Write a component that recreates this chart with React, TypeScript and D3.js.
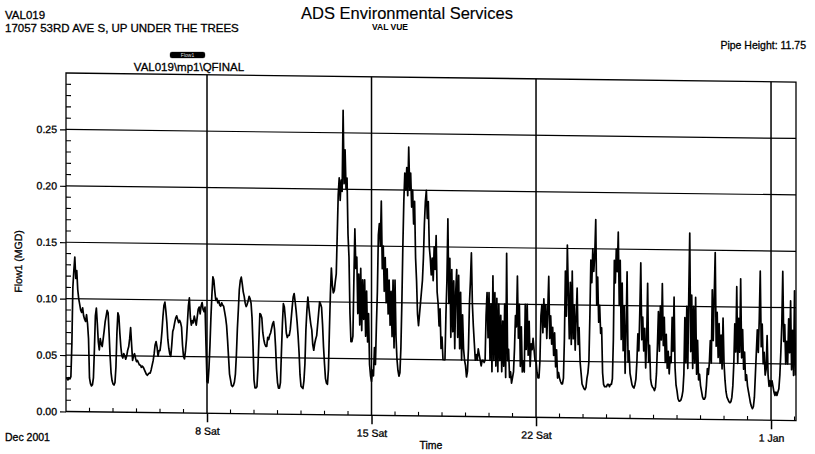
import * as d3 from 'd3';
import React, { useEffect, useRef } from 'react';

// time range of the plot (hourly readings start at startTime)
const startTime = new Date(2001, 11, 2, 0, 0);
const endTime = new Date(2002, 0, 2, 1, 30);

// Flow1 (MGD), hourly, one row per day
const flowWeek1 = [
    0.030, 0.029, 0.028, 0.030, 0.029, 0.031, 0.060, 0.110, 0.125, 0.137, 0.118, 0.125, 0.108, 0.100, 0.095, 0.090, 0.088, 0.092, 0.085, 0.082, 0.080, 0.086, 0.078, 0.065,
    0.030, 0.025, 0.023, 0.024, 0.030, 0.055, 0.085, 0.092, 0.078, 0.062, 0.055, 0.065, 0.060, 0.058, 0.065, 0.072, 0.080, 0.085, 0.090, 0.088, 0.070, 0.050, 0.035, 0.028,
    0.025, 0.024, 0.026, 0.040, 0.070, 0.088, 0.085, 0.070, 0.058, 0.050, 0.048, 0.052, 0.050, 0.047, 0.050, 0.055, 0.058, 0.065, 0.075, 0.060, 0.046, 0.050, 0.052, 0.048,
    0.045, 0.046, 0.044, 0.042, 0.042, 0.040, 0.041, 0.040, 0.038, 0.036, 0.034, 0.033, 0.034, 0.035, 0.035, 0.038, 0.042, 0.046, 0.052, 0.060, 0.063, 0.058, 0.050, 0.055,
    0.055, 0.062, 0.072, 0.085, 0.095, 0.098, 0.090, 0.080, 0.065, 0.057, 0.052, 0.050, 0.060, 0.072, 0.075, 0.080, 0.084, 0.086, 0.083, 0.080, 0.082, 0.080, 0.076, 0.060,
    0.050, 0.048, 0.055, 0.065, 0.080, 0.095, 0.102, 0.085, 0.078, 0.082, 0.080, 0.086, 0.082, 0.078, 0.085, 0.092, 0.094, 0.088, 0.095, 0.098, 0.092, 0.090, 0.094, 0.060,
    0.028, 0.027, 0.040, 0.060, 0.085, 0.105, 0.121, 0.118, 0.108, 0.100, 0.102, 0.098, 0.100, 0.096, 0.095, 0.098, 0.096, 0.095, 0.090, 0.085, 0.078, 0.065, 0.050, 0.035,
];
const flowWeek2 = [
    0.030, 0.025, 0.024, 0.025, 0.028, 0.035, 0.052, 0.075, 0.092, 0.110, 0.118, 0.121, 0.115, 0.108, 0.104, 0.098, 0.095, 0.097, 0.100, 0.104, 0.102, 0.098, 0.085, 0.060,
    0.030, 0.023, 0.023, 0.024, 0.040, 0.065, 0.089, 0.088, 0.085, 0.072, 0.066, 0.062, 0.060, 0.060, 0.068, 0.066, 0.070, 0.072, 0.076, 0.080, 0.082, 0.075, 0.060, 0.040,
    0.028, 0.023, 0.023, 0.028, 0.055, 0.080, 0.098, 0.095, 0.085, 0.072, 0.068, 0.070, 0.070, 0.075, 0.085, 0.095, 0.104, 0.107, 0.100, 0.092, 0.082, 0.070, 0.055, 0.035,
    0.025, 0.024, 0.023, 0.030, 0.045, 0.075, 0.092, 0.104, 0.095, 0.087, 0.080, 0.075, 0.062, 0.057, 0.063, 0.067, 0.070, 0.080, 0.090, 0.100, 0.098, 0.095, 0.080, 0.060,
    0.045, 0.032, 0.028, 0.027, 0.040, 0.075, 0.107, 0.130, 0.115, 0.108, 0.110, 0.118, 0.125, 0.160, 0.195, 0.210, 0.190, 0.208, 0.198, 0.270, 0.205, 0.235, 0.200, 0.210,
    0.160, 0.140, 0.090, 0.065, 0.065, 0.070, 0.120, 0.165, 0.130, 0.140, 0.090, 0.125, 0.080, 0.130, 0.075, 0.120, 0.085, 0.120, 0.070, 0.110, 0.065, 0.090, 0.045, 0.035,
    0.030, 0.040, 0.035, 0.060, 0.045, 0.080, 0.110, 0.160, 0.170, 0.150, 0.190, 0.130, 0.150, 0.110, 0.140, 0.100, 0.130, 0.090, 0.120, 0.080, 0.110, 0.070, 0.120, 0.060,
];
const flowWeek3 = [
    0.120, 0.070, 0.050, 0.040, 0.035, 0.038, 0.060, 0.100, 0.150, 0.190, 0.215, 0.200, 0.220, 0.195, 0.238, 0.200, 0.215, 0.185, 0.200, 0.170, 0.190, 0.140, 0.120, 0.090,
    0.080, 0.090, 0.100, 0.110, 0.120, 0.140, 0.170, 0.190, 0.200, 0.175, 0.190, 0.150, 0.140, 0.125, 0.140, 0.120, 0.150, 0.130, 0.160, 0.110, 0.100, 0.080, 0.095, 0.060,
    0.070, 0.050, 0.050, 0.050, 0.090, 0.120, 0.175, 0.100, 0.140, 0.070, 0.130, 0.075, 0.120, 0.060, 0.110, 0.130, 0.070, 0.125, 0.060, 0.110, 0.050, 0.090, 0.060, 0.050,
    0.045, 0.035, 0.040, 0.060, 0.100, 0.120, 0.145, 0.100, 0.080, 0.065, 0.050, 0.055, 0.050, 0.060, 0.055, 0.050, 0.045, 0.050, 0.050, 0.048, 0.050, 0.090, 0.110, 0.070,
    0.110, 0.050, 0.100, 0.040, 0.125, 0.050, 0.110, 0.045, 0.105, 0.040, 0.100, 0.050, 0.090, 0.040, 0.085, 0.045, 0.100, 0.035, 0.145, 0.050, 0.060, 0.035, 0.040, 0.030,
    0.035, 0.040, 0.060, 0.090, 0.080, 0.125, 0.070, 0.100, 0.045, 0.080, 0.040, 0.050, 0.040, 0.100, 0.060, 0.100, 0.055, 0.085, 0.045, 0.065, 0.060, 0.070, 0.060, 0.050,
    0.050, 0.040, 0.035, 0.035, 0.050, 0.090, 0.100, 0.075, 0.105, 0.080, 0.100, 0.070, 0.095, 0.125, 0.070, 0.090, 0.065, 0.080, 0.055, 0.075, 0.045, 0.060, 0.035, 0.040,
];
const flowWeek4 = [
    0.035, 0.032, 0.030, 0.030, 0.035, 0.070, 0.130, 0.090, 0.153, 0.110, 0.070, 0.120, 0.065, 0.130, 0.070, 0.100, 0.060, 0.090, 0.115, 0.065, 0.080, 0.050, 0.040, 0.030,
    0.028, 0.026, 0.025, 0.027, 0.035, 0.040, 0.050, 0.090, 0.140, 0.120, 0.150, 0.130, 0.145, 0.176, 0.100, 0.125, 0.085, 0.100, 0.075, 0.080, 0.040, 0.030, 0.028, 0.028,
    0.028, 0.030, 0.030, 0.028, 0.030, 0.030, 0.035, 0.070, 0.140, 0.120, 0.150, 0.130, 0.165, 0.100, 0.140, 0.070, 0.120, 0.060, 0.100, 0.040, 0.080, 0.130, 0.050, 0.060,
    0.040, 0.035, 0.030, 0.028, 0.027, 0.030, 0.035, 0.050, 0.075, 0.060, 0.095, 0.138, 0.070, 0.090, 0.060, 0.080, 0.045, 0.070, 0.120, 0.050, 0.065, 0.035, 0.030, 0.028,
    0.027, 0.025, 0.028, 0.040, 0.065, 0.095, 0.060, 0.100, 0.070, 0.120, 0.065, 0.090, 0.050, 0.075, 0.045, 0.060, 0.040, 0.055, 0.050, 0.090, 0.060, 0.108, 0.045, 0.030,
    0.025, 0.018, 0.016, 0.016, 0.017, 0.020, 0.025, 0.040, 0.090, 0.050, 0.100, 0.045, 0.110, 0.165, 0.060, 0.110, 0.045, 0.100, 0.050, 0.108, 0.040, 0.070, 0.035, 0.040,
    0.030, 0.025, 0.020, 0.018, 0.018, 0.020, 0.030, 0.045, 0.040, 0.050, 0.070, 0.050, 0.115, 0.070, 0.110, 0.148, 0.065, 0.095, 0.055, 0.085, 0.050, 0.075, 0.045, 0.090,
];
const flowWeek5 = [
    0.050, 0.035, 0.025, 0.020, 0.018, 0.016, 0.015, 0.016, 0.020, 0.030, 0.050, 0.085, 0.060, 0.118, 0.050, 0.090, 0.060, 0.125, 0.055, 0.080, 0.045, 0.060, 0.035, 0.040,
    0.030, 0.025, 0.020, 0.015, 0.012, 0.010, 0.012, 0.020, 0.040, 0.060, 0.080, 0.060, 0.090, 0.132, 0.065, 0.085, 0.050, 0.060, 0.040, 0.045, 0.075, 0.040, 0.030, 0.035,
    0.030, 0.035, 0.030, 0.025, 0.022, 0.025, 0.022, 0.025, 0.028, 0.040, 0.060, 0.085, 0.132, 0.070, 0.085, 0.050, 0.070, 0.050, 0.090, 0.060, 0.106, 0.045, 0.080, 0.040,
    0.115, 0.040,
];

const yTickValues = [0, 0.05, 0.1, 0.15, 0.2, 0.25];
const majorTickDates = [new Date(2001, 11, 8), new Date(2001, 11, 15), new Date(2001, 11, 22), new Date(2002, 0, 1)];
const majorTickLabels = ['8 Sat', '15 Sat', '22 Sat', '1 Jan'];

const FONT = '"Liberation Sans", Arial, sans-serif';
const SKEW_DEG = 0.71; // the scanned page is slightly sheared

export default function App() {
    const ref = useRef<any>(null);

    useEffect(() => {
        const width = 815;
        const height = 454;
        const margin = { top: 73, left: 66, right: 19, bottom: 42.5 };
        const boundedWidth = width - margin.left - margin.right;
        const boundedHeight = height - margin.top - margin.bottom;

        const flow = [...flowWeek1, ...flowWeek2, ...flowWeek3, ...flowWeek4, ...flowWeek5];
        const dataset = flow.map((v, i) => ({ date: d3.timeHour.offset(startTime, i), value: v }));

        const svg = d3.select<any, any>(ref.current)
            .attr('width', width)
            .attr('height', height);
        svg.selectAll('*').remove();

        svg.append('rect').attr('width', width).attr('height', height).attr('fill', 'white');

        // header texts (slight stroke for the heavy scanned print)
        const header = svg.append('g')
            .attr('font-family', FONT)
            .attr('fill', 'black')
            .attr('stroke', 'black')
            .attr('stroke-width', 0.3);
        header.append('text').attr('x', 5).attr('y', 19).attr('font-size', 11.5).text('VAL019');
        header.append('text').attr('x', 5).attr('y', 32).attr('font-size', 11.5).text('17057 53RD AVE S, UP UNDER THE TREES');
        header.append('text').attr('x', 407).attr('y', 19).attr('font-size', 16.5).attr('stroke-width', 0.15).attr('text-anchor', 'middle').text('ADS Environmental Services');
        header.append('text').attr('x', 390).attr('y', 30).attr('font-size', 8.5).attr('font-weight', 'bold').attr('stroke-width', 0).attr('text-anchor', 'middle').text('VAL VUE');
        header.append('text').attr('x', 806).attr('y', 49).attr('font-size', 10.5).attr('text-anchor', 'end').text('Pipe Height: 11.75');

        // legend
        header.append('rect').attr('x', 170).attr('y', 52).attr('width', 35).attr('height', 6).attr('rx', 2).attr('fill', 'black');
        header.append('text').attr('x', 187.5).attr('y', 57).attr('font-size', 5).attr('fill', '#ddd').attr('stroke-width', 0).attr('text-anchor', 'middle').text('Flow1');
        header.append('text').attr('x', 189).attr('y', 71).attr('font-size', 11.5).attr('text-anchor', 'middle').text('VAL019\\mp1\\QFINAL');

        header.append('text').attr('x', 5).attr('y', 441).attr('font-size', 10.5).text('Dec 2001');
        header.append('text').attr('x', 431).attr('y', 449).attr('font-size', 10.5).attr('text-anchor', 'middle').text('Time');

        const t = Math.tan(SKEW_DEG * Math.PI / 180);
        const stage = svg.append('g')
            .attr('transform', `translate(0, ${-margin.left * t}) skewY(${SKEW_DEG}) translate(${margin.left}, ${margin.top})`)
            .attr('font-family', FONT);

        const xScale = d3.scaleTime().domain([startTime, endTime]).range([0, boundedWidth]);
        const yScale = d3.scaleLinear().domain([0, 0.3]).range([boundedHeight, 0]);

        // grid
        stage.selectAll('.h-grid').data(yTickValues.filter((v) => v > 0)).join('line')
            .attr('class', 'h-grid')
            .attr('x1', 0).attr('x2', boundedWidth)
            .attr('y1', (d) => yScale(d)).attr('y2', (d) => yScale(d))
            .attr('stroke', 'black').attr('stroke-width', 1.2);
        stage.selectAll('.v-grid').data(majorTickDates).join('line')
            .attr('class', 'v-grid')
            .attr('x1', (d) => xScale(d)).attr('x2', (d) => xScale(d))
            .attr('y1', 0).attr('y2', boundedHeight)
            .attr('stroke', 'black').attr('stroke-width', 1.5);

        // data line
        const line = d3.line<any>()
            .x((d) => xScale(d.date))
            .y((d) => yScale(d.value));
        stage.append('clipPath').attr('id', 'plot-clip')
            .append('rect').attr('width', boundedWidth).attr('height', boundedHeight);
        stage.append('path')
            .datum(dataset)
            .attr('d', line as any)
            .attr('clip-path', 'url(#plot-clip)')
            .attr('fill', 'none')
            .attr('stroke', 'black')
            .attr('stroke-width', 1.7)
            .attr('stroke-linejoin', 'round');

        // frame
        stage.append('rect')
            .attr('width', boundedWidth).attr('height', boundedHeight)
            .attr('fill', 'none').attr('stroke', 'black').attr('stroke-width', 1.3);

        // y axis
        const yAxis = d3.axisLeft(yScale)
            .tickValues(yTickValues)
            .tickSize(6)
            .tickPadding(3)
            .tickFormat((v: any) => d3.format('.2f')(v));
        const y = stage.append('g').call(yAxis);
        y.select('.domain').remove();
        y.selectAll('line').attr('stroke-width', 1.2);
        y.selectAll('text').attr('font-size', 10.5).attr('font-family', FONT)
            .attr('stroke', 'black').attr('stroke-width', 0.3);

        const minorY = d3.range(1, 30).map((i) => i / 100).filter((v) => Math.round(v * 100) % 5 !== 0);
        stage.selectAll('.y-minor').data(minorY).join('line')
            .attr('class', 'y-minor')
            .attr('x1', 0).attr('x2', 5)
            .attr('y1', (d) => yScale(d)).attr('y2', (d) => yScale(d))
            .attr('stroke', 'black').attr('stroke-width', 1.1);

        // x axis
        const xAxis = d3.axisBottom(xScale)
            .tickValues(majorTickDates)
            .tickSize(9)
            .tickPadding(5)
            .tickFormat((d: any, i: number) => majorTickLabels[i]);
        const x = stage.append('g').attr('transform', `translate(0, ${boundedHeight})`).call(xAxis);
        x.select('.domain').remove();
        x.selectAll('line').attr('stroke-width', 1.5);
        x.selectAll('text').attr('font-size', 10.5).attr('font-family', FONT)
            .attr('stroke', 'black').attr('stroke-width', 0.3);

        const majorKeys = majorTickDates.map((d) => +d);
        const minorX = d3.timeDay.range(d3.timeDay.offset(startTime, 1), endTime).filter((d) => !majorKeys.includes(+d));
        stage.selectAll('.x-minor').data(minorX).join('line')
            .attr('class', 'x-minor')
            .attr('x1', (d) => xScale(d)).attr('x2', (d) => xScale(d))
            .attr('y1', boundedHeight).attr('y2', boundedHeight - 4)
            .attr('stroke', 'black').attr('stroke-width', 1.1);

        // y label
        stage.append('text')
            .attr('transform', `translate(${22 - margin.left}, ${262 - margin.top}) rotate(-90)`)
            .attr('text-anchor', 'middle')
            .attr('font-size', 10.5)
            .attr('stroke', 'black')
            .attr('stroke-width', 0.3)
            .text('Flow1 (MGD)');
    }, []);

    return (
        <svg ref={ref} style={{ position: 'absolute', left: 0, top: 0, display: 'block' }}></svg>
    );
}
